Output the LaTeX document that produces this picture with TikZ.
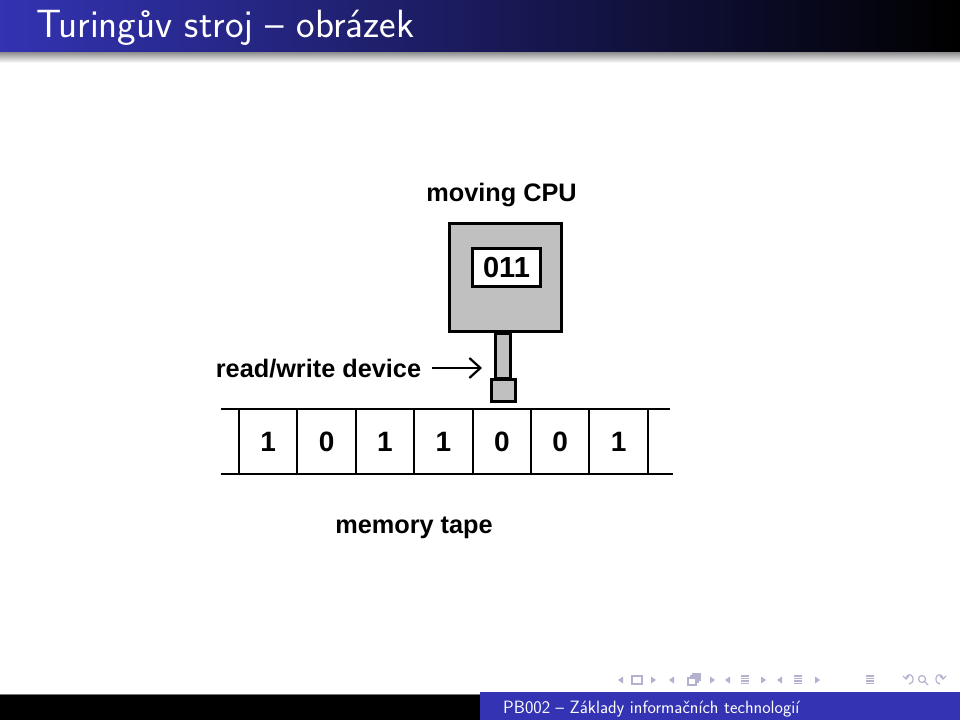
\documentclass[tikz,border=0pt]{standalone}
\usepackage{fontspec}
\newfontfamily\arialfont{Liberation Sans}
\usetikzlibrary{arrows.meta}

\definecolor{barblue}{RGB}{51,51,179}
\definecolor{cpugray}{RGB}{192,192,192}
\definecolor{navcol}{RGB}{178,178,206}

\begin{document}
\begin{tikzpicture}[
    x=1pt, y=-1pt,
    slidetitle/.style={font=\fontsize{39.4}{44}\selectfont\sffamily, text=white,
                       anchor=base west, inner sep=0pt},
    foot/.style={font=\fontsize{17.8}{20}\selectfont\sffamily, text=white,
                 anchor=base west, inner sep=0pt},
    lbl/.style={font=\fontsize{25.3}{28}\selectfont\arialfont\bfseries,
                anchor=base, inner sep=0pt},
    digit/.style={font=\fontsize{28}{30}\selectfont\arialfont\bfseries},
    part/.style={draw, line width=3pt, fill=cpugray, inner sep=0pt},
    cell/.style={draw, line width=2pt, minimum width=58.4pt, minimum height=65pt,
                 inner sep=0pt},
    arr/.style={-{Straight Barb[length=11pt, width=20pt, line width=2.2pt]}, line width=2.5pt},
    nav/.style={navcol, line width=1.2pt},
    navtri/.style={fill=navcol}
]
\useasboundingbox (0,0) rectangle (960,720);

% ============================================================
% Title bar
% ============================================================
\shade[left color=barblue, right color=black] (0,0) rectangle (960,52);
\shade[top color=black!45, bottom color=white] (0,52) rectangle (960,63);
\node[slidetitle] (title) at (36,37) {Turingův stroj -- obrázek};

% ============================================================
% Moving CPU with read/write device
% ============================================================
\node[lbl] (cpulabel) at (501.5,201) {moving CPU};
\node[part, minimum width=15pt, minimum height=45pt] (stem) at (503,355.5) {};
\node[part, minimum width=112pt, minimum height=108pt] (cpu) at (505.5,277.5) {};
\node[draw, line width=3pt, fill=white, minimum width=68pt, minimum height=38pt,
      inner sep=0pt, font=\fontsize{29}{30}\selectfont\arialfont\bfseries]
      (state) at (506.5,267.5) {011};
\node[part, minimum width=24pt, minimum height=22pt] (rwhead) at (503.5,390.5) {};

\node[lbl] (rwlabel) at (318.5,377) {read/write device};
\coordinate (rwtip) at (482,368);
\draw[arr, shorten <=11pt] (rwlabel.east |- rwtip) -- (rwtip);

% ============================================================
% Memory tape
% ============================================================
\draw[line width=2pt] (221,409) -- (670,409);
\draw[line width=2pt] (221,474) -- (673,474);
\foreach \b [count=\i from 0] in {1,0,1,1,0,0,1} {
    \node[cell] (c\i) at (268.2+58.4*\i,441.5) {};
    \node[digit] (d\i) at (c\i) {\b};
}
\node[lbl] (tapelabel) at (414,533) {memory tape};

% ============================================================
% Navigation symbols
% ============================================================
\foreach \x in {621,672,728,780} {
    \fill[navtri] (\x-3,680) -- (\x+2,676.5) -- (\x+2,683.5) -- cycle;
}
\foreach \x in {653,712,763,817} {
    \fill[navtri] (\x+3,680) -- (\x-2,676.5) -- (\x-2,683.5) -- cycle;
}
\draw[nav] (632,676) rectangle (642,684);
\draw[nav] (688,678) rectangle (696,685);
\draw[nav] (690,676) -- (698,676) -- (698,683);
\draw[nav] (692,674) -- (700,674) -- (700,681);
\foreach \x in {745,798,870} {
    \foreach \dy in {-4,-1.5,1,3.5} {
        \draw[nav] (\x-4,680+\dy) -- (\x+4,680+\dy);
    }
}
\draw[nav] (903,676) -- (906,679) -- (909,676);
\draw[nav] (906,679) .. controls (906,674) and (912,673) .. (913,678)
           .. controls (913.5,682) and (911,684) .. (909,684);
\draw[nav] (922,679) circle[radius=3.5pt];
\draw[nav] (924.5,681.5) -- (928,685);
\draw[nav] (946,676) -- (943,679) -- (940,676);
\draw[nav] (943,679) .. controls (943,674) and (937,673) .. (936,678)
           .. controls (935.5,682) and (938,684) .. (940,684);

% ============================================================
% Footer
% ============================================================
\fill[black] (0,694) rectangle (480,720);
\draw[black!55, line width=1pt] (0,694) -- (480,694);
\fill[barblue] (480,692) rectangle (960,720);
\node[foot] (footer) at (503,713) {PB002 -- Základy informačních technologií};

\end{tikzpicture}
\end{document}
